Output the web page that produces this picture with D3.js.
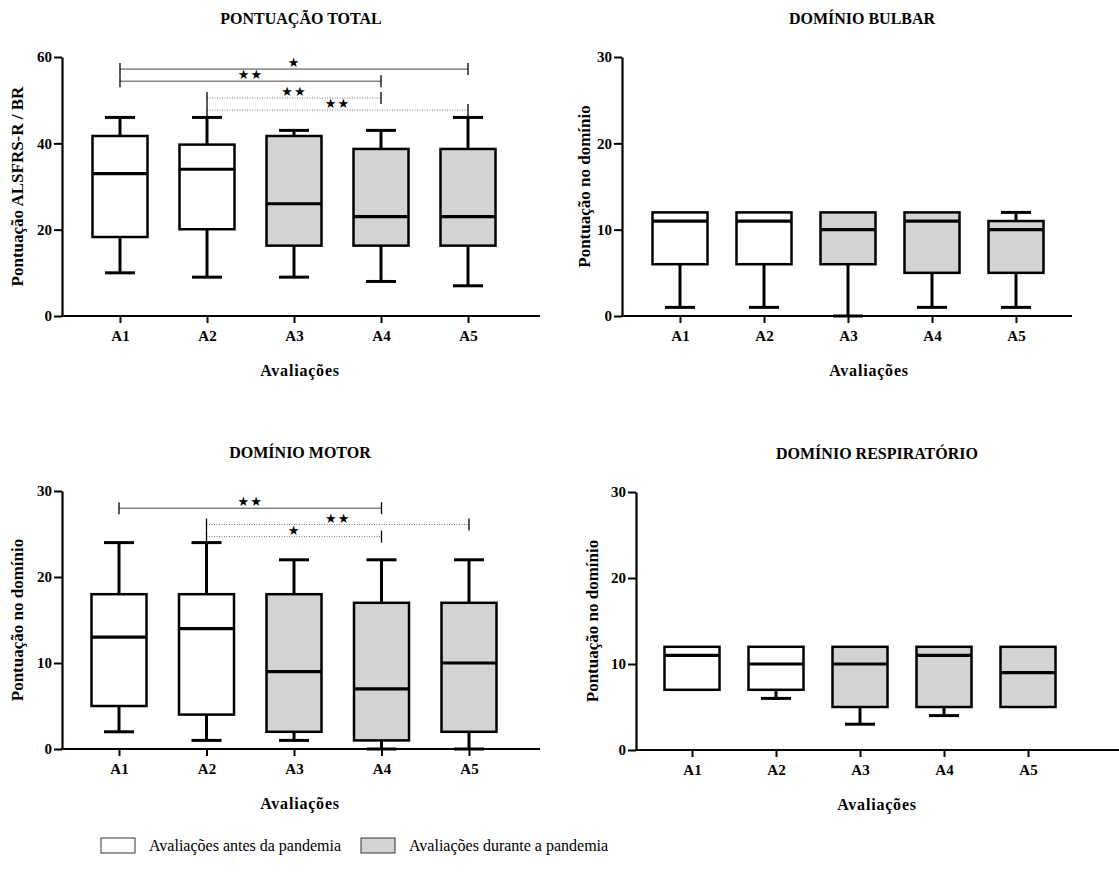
<!DOCTYPE html>
<html>
<head>
<meta charset="utf-8">
<script src="https://cdn.jsdelivr.net/npm/d3@7"></script>
<style>
  body { margin: 0; background: #fff; }
  svg text { font-family: "Liberation Serif", serif !important; }
  svg text.star { font-family: "DejaVu Sans", sans-serif !important; }
</style>
</head>
<body>
<svg id="chart" width="1119" height="881"></svg>
<script>
// categories and groups
const categories = ["A1", "A2", "A3", "A4", "A5"];
const periods = ["antes", "antes", "durante", "durante", "durante"];
const legendLabels = ["Avaliações antes da pandemia", "Avaliações durante a pandemia"];

// box stats per category: [min, q1, median, q3, max]
const totalStats  = [[10, 18.3, 33, 41.7, 46], [9, 20.1, 34, 39.7, 46], [9, 16.3, 26, 41.7, 43], [8, 16.3, 23, 38.7, 43], [7, 16.3, 23, 38.7, 46]];
const bulbarStats = [[1, 6, 11, 12, 12], [1, 6, 11, 12, 12], [0, 6, 10, 12, 12], [1, 5, 11, 12, 12], [1, 5, 10, 11, 12]];
const motorStats  = [[2, 5, 13, 18, 24], [1, 4, 14, 18, 24], [1, 2, 9, 18, 22], [0, 1, 7, 17, 22], [0, 2, 10, 17, 22]];
const respStats   = [[7, 7, 11, 12, 12], [6, 7, 10, 12, 12], [3, 5, 10, 12, 12], [4, 5, 11, 12, 12], [5, 5, 9, 12, 12]];

// significance brackets: from, to, height (data units), label, dotted
const totalSig = [
  ["A1", "A5", 57.2, "*", false],
  ["A1", "A4", 54.4, "**", false],
  ["A2", "A4", 50.5, "**", true],
  ["A2", "A5", 47.7, "**", true]
];
const motorSig = [
  ["A1", "A4", 28, "**", false],
  ["A2", "A5", 26.1, "**", true],
  ["A2", "A4", 24.7, "*", true]
];

const totalTicks = [0, 20, 40, 60];
const domainTicks = [0, 10, 20, 30];

const svg = d3.select("#chart");
const fillOf = p => p === "antes" ? "#ffffff" : "#d3d3d3";

function drawPanel(c) {
  let g = svg.append("g");
  let x = d3.scalePoint().domain(categories).range(c.cats);
  let y = d3.scaleLinear().domain([0, c.ymax]).range([c.bottom, c.top]);

  // y axis
  let ya = g.append("g")
      .attr("transform", `translate(${c.x0},0)`)
      .call(d3.axisLeft(y).tickValues(c.ticks).tickSize(8).tickSizeOuter(0).tickPadding(2));
  ya.select(".domain").attr("stroke-width", 2.2);
  ya.selectAll(".tick line").attr("stroke-width", 2);
  ya.selectAll(".tick text").attr("font-size", 15).attr("font-weight", "bold").attr("fill", "#000");

  // x axis
  let xa = g.append("g")
      .attr("transform", `translate(0,${c.bottom})`)
      .call(d3.axisBottom(x).tickSize(7).tickPadding(7));
  xa.select(".domain").remove();
  xa.selectAll(".tick line").attr("stroke-width", 2);
  xa.selectAll(".tick text").attr("font-size", 15).attr("font-weight", "bold").attr("fill", "#000");
  g.append("line")
      .attr("x1", c.x0 - 1).attr("x2", c.xEnd)
      .attr("y1", c.bottom).attr("y2", c.bottom)
      .attr("stroke", "#000").attr("stroke-width", 2.2);

  // boxes
  let bw = 55, cw = 30;
  let box = g.selectAll(".box").data(c.stats).join("g").attr("class", "box");
  box.append("line")
      .attr("x1", (d, i) => x(categories[i])).attr("x2", (d, i) => x(categories[i]))
      .attr("y1", d => y(d[0])).attr("y2", d => y(d[4]))
      .attr("stroke", "#000").attr("stroke-width", 3);
  box.append("line")
      .attr("x1", (d, i) => x(categories[i]) - cw / 2).attr("x2", (d, i) => x(categories[i]) + cw / 2)
      .attr("y1", d => y(d[0])).attr("y2", d => y(d[0]))
      .attr("stroke", "#000").attr("stroke-width", 3)
      .attr("display", d => d[0] < d[1] ? null : "none");
  box.append("line")
      .attr("x1", (d, i) => x(categories[i]) - cw / 2).attr("x2", (d, i) => x(categories[i]) + cw / 2)
      .attr("y1", d => y(d[4])).attr("y2", d => y(d[4]))
      .attr("stroke", "#000").attr("stroke-width", 3)
      .attr("display", d => d[4] > d[3] ? null : "none");
  box.append("rect")
      .attr("x", (d, i) => x(categories[i]) - bw / 2)
      .attr("width", bw)
      .attr("y", d => y(d[3]))
      .attr("height", d => y(d[1]) - y(d[3]))
      .attr("fill", (d, i) => fillOf(periods[i]))
      .attr("stroke", "#000").attr("stroke-width", 2.5);
  box.append("line")
      .attr("x1", (d, i) => x(categories[i]) - bw / 2).attr("x2", (d, i) => x(categories[i]) + bw / 2)
      .attr("y1", d => y(d[2])).attr("y2", d => y(d[2]))
      .attr("stroke", "#000").attr("stroke-width", 3.2);

  // significance brackets
  (c.sig || []).forEach(s => {
    let x1 = x(s[0]), x2 = x(s[1]), yy = y(s[2]);
    g.append("line")
        .attr("x1", x1).attr("x2", x2).attr("y1", yy).attr("y2", yy)
        .attr("stroke", s[4] ? "#777" : "#444")
        .attr("stroke-width", 1)
        .attr("stroke-dasharray", s[4] ? "1,1.5" : null);
    [x1, x2].forEach(xx => {
      g.append("line")
          .attr("x1", xx).attr("x2", xx).attr("y1", yy - 6).attr("y2", yy + 6)
          .attr("stroke", "#000").attr("stroke-width", 1.3);
    });
    g.append("text")
        .attr("class", "star")
        .attr("x", (x1 + x2) / 2).attr("y", yy - 2)
        .attr("text-anchor", "middle")
        .attr("font-size", 13)
        .attr("letter-spacing", 1)
        .text(s[3].replace(/\*/g, "★"));
  });

  // titles
  g.append("text")
      .attr("x", c.titleX).attr("y", c.top - 33)
      .attr("text-anchor", "middle").attr("font-size", 16).attr("font-weight", "bold")
      .text(c.title);
  g.append("text")
      .attr("x", c.xlabX).attr("y", c.bottom + 60)
      .attr("text-anchor", "middle").attr("font-size", 16).attr("font-weight", "bold")
      .attr("letter-spacing", 0.8)
      .text("Avaliações");
  g.append("text")
      .attr("transform", `translate(${c.ylabX},${(c.top + c.bottom) / 2}) rotate(-90)`)
      .attr("text-anchor", "middle").attr("font-size", 17).attr("font-weight", "bold")
      .text(c.ylabel);
}

drawPanel({ x0: 62, xEnd: 540, cats: [120, 468], top: 57, bottom: 316, ymax: 60, ticks: totalTicks,
  stats: totalStats, sig: totalSig, title: "PONTUAÇÃO TOTAL", titleX: 301, xlabX: 300,
  ylabel: "Pontuação ALSFRS-R / BR", ylabX: 23 });
drawPanel({ x0: 622, xEnd: 1072, cats: [680, 1016], top: 57, bottom: 316, ymax: 30, ticks: domainTicks,
  stats: bulbarStats, title: "DOMÍNIO BULBAR", titleX: 862, xlabX: 869,
  ylabel: "Pontuação no domínio", ylabX: 590 });
drawPanel({ x0: 62, xEnd: 540, cats: [119, 469], top: 491, bottom: 749, ymax: 30, ticks: domainTicks,
  stats: motorStats, sig: motorSig, title: "DOMÍNIO MOTOR", titleX: 300, xlabX: 300,
  ylabel: "Pontuação no domínio", ylabX: 23 });
drawPanel({ x0: 636, xEnd: 1119, cats: [692, 1028], top: 492, bottom: 750, ymax: 30, ticks: domainTicks,
  stats: respStats, title: "DOMÍNIO RESPIRATÓRIO", titleX: 877, xlabX: 877,
  ylabel: "Pontuação no domínio", ylabX: 598 });

// legend
const legendX = [101, 361];
const lg = svg.append("g").selectAll("g").data(legendLabels).join("g")
    .attr("transform", (d, i) => `translate(${legendX[i]},838)`);
lg.append("rect").attr("width", 34).attr("height", 15)
    .attr("fill", (d, i) => fillOf(i === 0 ? "antes" : "durante"))
    .attr("stroke", "#333").attr("stroke-width", 1);
lg.append("text").attr("x", 48).attr("y", 13).attr("font-size", 16).text(d => d);
</script>
</body>
</html>
